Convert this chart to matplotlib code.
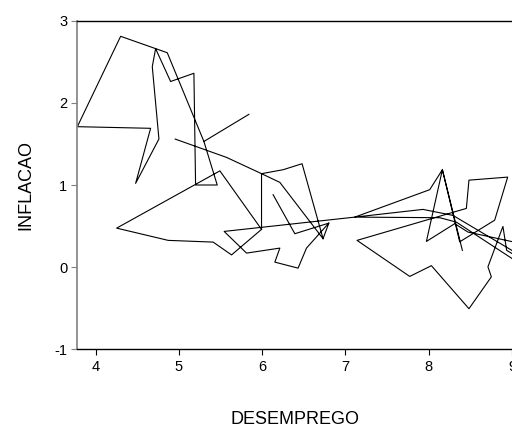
import numpy as np
import matplotlib
matplotlib.use("Agg")
import matplotlib.pyplot as plt

plt.rcParams['font.family'] = ['Liberation Sans', 'DejaVu Sans']
plt.rcParams['axes.unicode_minus'] = False

nan = np.nan

# desemprego (x) and inflacao (y); nan = gap in the series
desemprego = [
    5.84, 5.30, 4.86, 4.72, 4.30, 3.78, 4.66, 4.48, 4.76, 4.68, 4.72, 4.90, 5.18, 5.20, 5.46, 5.30,
    nan,
    4.955, 5.572, 5.992, 6.212, 6.731, 6.479, 6.251, 5.992, 5.992, 5.492, 4.252, 4.871, 5.411, 5.632, 5.992,
    nan,
    6.131, 6.392, 6.800, 6.731,
    nan,
    6.800, 6.532, 6.431, 6.152, 6.212, 5.812, 5.543, 7.112, 8.012, 8.164, 8.372, 8.792, 8.948,
    8.483, 8.452, 7.139, 7.772, 8.032, 8.483, 8.752, 8.711, 8.891, 8.936, 9.15, 9.15, 8.291,
    7.931, 7.112, 8.132, 8.332, 9.15, 9.15, 8.471, 8.312, 7.972, 8.164, 8.404,
]
inflacao = [
    1.86, 1.53, 2.61, 2.66, 2.81, 1.71, 1.69, 1.02, 1.56, 2.44, 2.66, 2.26, 2.36, 1.00, 1.00, 1.53,
    nan,
    1.559, 1.336, 1.138, 1.032, 0.346, 1.259, 1.186, 1.138, 0.460, 1.172, 0.475, 0.326, 0.305, 0.149, 0.460,
    nan,
    0.882, 0.407, 0.536, 0.346,
    nan,
    0.536, 0.232, -0.012, 0.061, 0.232, 0.171, 0.435, 0.609, 0.943, 1.186, 0.308, 0.572, 1.096,
    1.059, 0.715, 0.326, -0.113, 0.018, -0.506, -0.118, 0.004, 0.496, 0.204, 0.078, 0.113, 0.630,
    0.703, 0.609, 0.602, 0.548, 0.006, 0.278, 0.427, 0.529, 0.313, 1.186, 0.204,
]

x_ticks = [4, 5, 6, 7, 8, 9]
y_ticks = [-1, 0, 1, 2, 3]

fig = plt.figure(figsize=(5.12, 4.28), dpi=100)
ax = fig.add_axes([77 / 512, 1 - 349.3 / 428, 1 - 77 / 512, (349.3 - 20.7) / 428])

ax.plot(desemprego, inflacao, color='black', lw=0.8)

ax.set_xlim(3.776, 9.0)
ax.set_ylim(-1, 3)
ax.set_xticks(x_ticks)
ax.set_yticks(y_ticks)

ax.spines['right'].set_visible(False)
ax.spines['left'].set_color('#808080')
ax.spines['left'].set_linewidth(1.2)
ax.spines['bottom'].set_linewidth(1.0)
ax.spines['top'].set_linewidth(1.0)

ax.tick_params(axis='y', direction='out', length=4, color='#808080', labelsize=10.5, pad=3)
ax.tick_params(axis='x', direction='out', length=4, color='black', labelsize=10.5, pad=4)

ax.set_xlabel('DESEMPREGO', fontsize=13, labelpad=26)
ax.set_ylabel('INFLACAO', fontsize=13, labelpad=14)

fig.savefig('out.png', dpi=100)
